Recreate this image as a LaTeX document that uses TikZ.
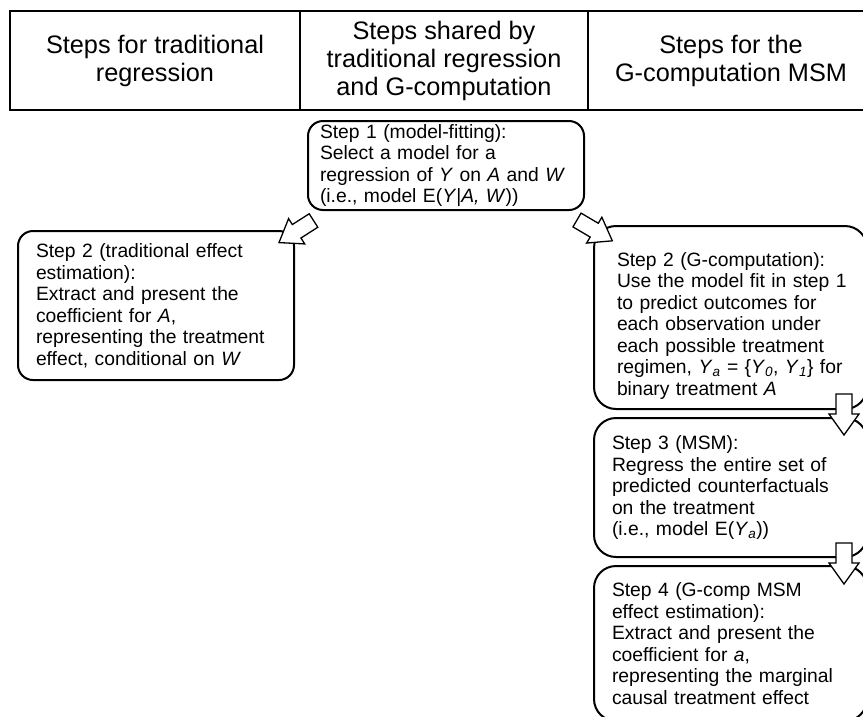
\documentclass[tikz,border=0pt]{standalone}
\usepackage{fontspec}
\setmainfont{Liberation Sans}
\usetikzlibrary{calc, positioning}

\begin{document}
\begin{tikzpicture}[
  x=1pt, y=-1pt,
  head/.style={draw, line width=2.7pt, minimum height=99pt, align=center,
    inner sep=0pt, outer sep=0pt, font=\fontsize{25.3}{28}\selectfont},
  stepbox/.style={draw, line width=2pt, rounded corners=15pt, align=left,
    anchor=north west, inner ysep=0pt, font=\fontsize{19.3}{21.5}\selectfont},
  gbox/.style={stepbox, rounded corners=22pt, text width=237pt, inner xsep=18pt},
  hollow arrow/.pic={
    \draw[line width=1.3pt, fill=white, line join=miter]
      (0,-8) -- (20,-8) -- (20,-15) -- (41,0) -- (20,15) -- (20,8) -- (0,8) -- cycle;
  }
]
  \useasboundingbox (0,0) rectangle (863,716);
  \clip (0,0) rectangle (863,716);

  \node[head, anchor=north west, minimum width=290pt] (colA) at (10,11) {Steps for traditional\\regression};
  \node[head, minimum width=288pt, right=0pt of colA] (colB) {Steps shared by\\traditional regression\\and G-computation};
  \node[head, minimum width=286pt, right=0pt of colB] (colC) {Steps for the\\G-computation MSM};

  \node[stepbox, text width=252pt, inner xsep=12pt, minimum height=89pt] (fit) at (307,120)
    {Step 1 (model-fitting):\\Select a model for a\\regression of \textit{Y} on \textit{A} and \textit{W}\\(i.e., model E(\textit{Y}|\textit{A, W}))};
  \node[stepbox, text width=240pt, inner xsep=18pt, minimum height=149pt] (trad) at (17,230)
    {Step 2 (traditional effect\\estimation):\\Extract and present the\\coefficient for \textit{A},\\representing the treatment\\effect, conditional on \textit{W}};
  \node[gbox, minimum height=183pt] (gcomp) at (593,225)
    {\hspace*{5pt}\rule{0pt}{30pt}Step 2 (G-computation):\\\hspace*{5pt}Use the model fit in step 1\\\hspace*{5pt}to predict outcomes for\\\hspace*{5pt}each observation under\\\hspace*{5pt}each possible treatment\\\hspace*{5pt}regimen, \textit{Y}\textsubscript{\textit{a}} = \{\textit{Y}\textsubscript{\textit{0}}, \textit{Y}\textsubscript{\textit{1}}\} for\\\hspace*{5pt}binary treatment \textit{A}};
  \node[gbox, minimum height=139pt] (msm) at (593,417)
    {Step 3 (MSM):\\Regress the entire set of\\predicted counterfactuals\\on the treatment\\(i.e., model E(\textit{Y}\textsubscript{\textit{a}}))};
  \node[gbox, minimum height=155pt] (est) at (593,565)
    {Step 4 (G-comp MSM\\effect estimation):\\Extract and present the\\coefficient for \textit{a},\\representing the marginal\\causal treatment effect};

  \pic[rotate=212.6] at ($(fit.south west)+(6.5,9.5)$) {hollow arrow};
  \pic[rotate=-30.5] at ($(fit.south east)+(-8,9)$) {hollow arrow};
  \pic[rotate=-90] at ($(gcomp.south east)+(-24,-16)$) {hollow arrow};
  \pic[rotate=-90] at ($(msm.south east)+(-24,-15)$) {hollow arrow};
\end{tikzpicture}
\end{document}
